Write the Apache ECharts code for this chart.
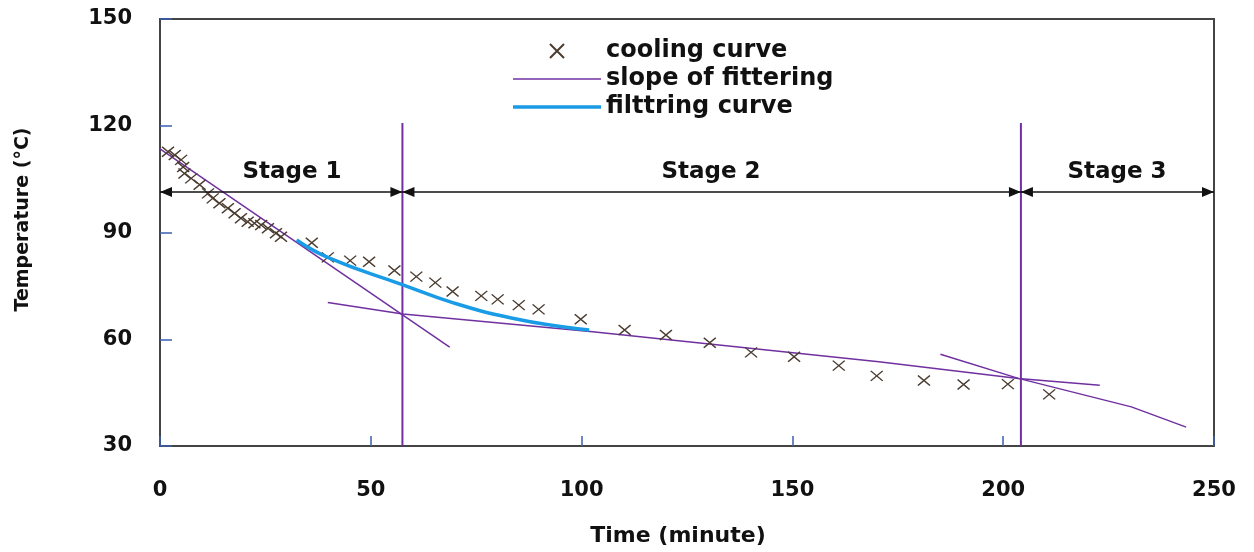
<!DOCTYPE html>
<html>
<head>
<meta charset="utf-8">
<script src="https://cdn.jsdelivr.net/npm/echarts@6/dist/echarts.min.js"></script>
<style>
  html, body { margin: 0; padding: 0; background: #fff; }
  #chart { width: 1254px; height: 552px; }
</style>
</head>
<body>
<div id="chart"></div>
<script>
const coolTime = [1.9, 3.5, 5.0, 5.5, 5.8, 7.4, 9.4, 11.4, 12.5, 14.1, 16.1, 17.7, 19.2, 20.8, 22.4, 24.0, 25.6, 27.5, 28.7,
  36.0, 39.8, 45.1, 49.6, 55.6, 60.8, 65.3, 69.4, 76.2, 80.1, 85.1, 89.8, 99.8,
  110.2, 120.0, 130.4, 140.2, 150.4, 161.0, 170.0, 181.2, 190.6, 201.1, 210.9];
const coolTemp = [112.7, 111.8, 110.4, 108.4, 106.6, 105.2, 103.4, 101.0, 99.6, 98.2, 96.8, 95.4, 94.0, 93.0, 92.6, 92.1, 91.2, 89.8, 88.8,
  87.1, 83.0, 82.1, 81.8, 79.3, 77.6, 75.9, 73.4, 72.2, 71.2, 69.6, 68.4, 65.6,
  62.6, 61.2, 59.0, 56.3, 55.1, 52.6, 49.7, 48.4, 47.3, 47.4, 44.5];

// filtering curve (blue)
const fitTime = [32.4, 40.2, 57.6, 69.4, 83.6, 96.3, 101.8];
const fitTemp = [87.9, 82.8, 75.3, 70.3, 65.9, 63.4, 62.6];

// slope lines (purple)
const slope1Time = [0, 68.7];
const slope1Temp = [113.5, 57.8];
const slope2Time = [39.8, 57.6, 102.6, 170.5, 203.6, 222.9];
const slope2Temp = [70.3, 67.1, 62.1, 53.7, 49.0, 47.1];
const slope3Time = [185.1, 203.6, 230.4, 243.4];
const slope3Temp = [55.8, 49.0, 41.0, 35.3];

// stage boundaries
const stageBounds = [0, 57.5, 204.2, 250];
const boundTop = 120.8;
const arrowTemp = 101.4;
const stageNames = ['Stage 1', 'Stage 2', 'Stage 3'];
const stageLabelTime = [31.3, 130.7, 227];
const stageLabelTemp = [107, 107, 107];

const FONT = 'DejaVu Sans';
const PURPLE = '#7030a0';
const BLUE = '#1a9be6';
const CROSS = 'path://M0,0L10,10M10,0L0,10';
// arrow head with its tip at the symbol centre
const ARROW = 'path://M0,0M24,0M12,12L17,24L7,24Z';

const zip = (a, b) => a.map((v, i) => [v, b[i]]);

const slopeSeries = [zip(slope1Time, slope1Temp), zip(slope2Time, slope2Temp), zip(slope3Time, slope3Temp)]
  .map(d => ({
    name: 'slope of fittering', type: 'line', data: d, symbol: 'none',
    lineStyle: { color: PURPLE, width: 1.5 }, itemStyle: { color: PURPLE }, z: 3
  }));

const boundSeries = [stageBounds[1], stageBounds[2]].map(x => ({
  name: 'slope of fittering', type: 'line', symbol: 'none',
  data: [[x, boundTop], [x, 30]],
  lineStyle: { color: PURPLE, width: 2 }, itemStyle: { color: PURPLE }, z: 3
}));

const arrowData = [];
for (let i = 0; i < 3; i++) {
  arrowData.push({ coords: [[stageBounds[i], arrowTemp], [stageBounds[i + 1], arrowTemp]] });
}

const chart = echarts.init(document.getElementById('chart'), null, { renderer: 'canvas' });
chart.setOption({
  animation: false,
  backgroundColor: '#fff',
  grid: { left: 160, right: 40, top: 19, bottom: 106, show: true, borderColor: '#444', borderWidth: 2 },
  legend: {
    orient: 'vertical', left: 508, top: 34,
    itemWidth: 88, itemHeight: 14, itemGap: 4, symbolKeepAspect: true,
    textStyle: { fontFamily: FONT, fontWeight: 'bold', fontSize: 24, color: '#111' },
    data: [
      { name: 'cooling curve', icon: CROSS },
      { name: 'slope of fittering', icon: 'path://M0,0L100,0L100,1.7L0,1.7Z' },
      { name: 'filttring curve', icon: 'path://M0,0L100,0L100,4L0,4Z' }
    ]
  },
  xAxis: {
    type: 'value', min: 0, max: 250, interval: 50,
    name: 'Time (minute)', nameLocation: 'middle', nameGap: 79,
    nameTextStyle: { fontFamily: FONT, fontWeight: 'bold', fontSize: 22, color: '#111', padding: [0, 18, 0, 0] },
    axisLine: { lineStyle: { color: '#444', width: 2 } },
    axisTick: { inside: true, length: 10, lineStyle: { color: '#3a5fb0', width: 1.5 } },
    axisLabel: { margin: 34, fontFamily: FONT, fontWeight: 'bold', fontSize: 21, color: '#111' },
    splitLine: { show: false }
  },
  yAxis: {
    type: 'value', min: 30, max: 150, interval: 30,
    name: 'Temperature (°C)', nameLocation: 'middle', nameGap: 127,
    nameTextStyle: { fontFamily: FONT, fontWeight: 'bold', fontSize: 19, color: '#111', padding: [0, 0, 0, 26] },
    axisLine: { lineStyle: { color: '#444', width: 2 } },
    axisTick: { inside: true, length: 12, lineStyle: { color: '#3a5fb0', width: 1.5 } },
    axisLabel: { margin: 28, fontFamily: FONT, fontWeight: 'bold', fontSize: 21, color: '#111' },
    splitLine: { show: false }
  },
  series: [
    {
      name: 'cooling curve', type: 'scatter', data: zip(coolTime, coolTemp),
      symbol: CROSS, symbolSize: [12, 10],
      itemStyle: { color: 'none', borderColor: '#4a3c30', borderWidth: 1.4, opacity: 1 }, z: 4
    },
    ...slopeSeries,
    ...boundSeries,
    {
      name: 'filttring curve', type: 'line', data: zip(fitTime, fitTemp), smooth: true, symbol: 'none',
      lineStyle: { color: BLUE, width: 3.5 }, itemStyle: { color: BLUE }, z: 5
    },
    {
      name: 'arrows', type: 'lines', coordinateSystem: 'cartesian2d',
      data: arrowData, symbol: [ARROW, ARROW], symbolSize: 24,
      lineStyle: { color: '#111', width: 1.5, opacity: 1 }, z: 6
    },
    {
      name: 'stages', type: 'scatter', symbolSize: 0,
      itemStyle: { opacity: 1 },
      data: stageNames.map((n, i) => ({ name: n, value: [stageLabelTime[i], stageLabelTemp[i]] })),
      label: {
        show: true, position: 'inside', formatter: '{b}',
        fontFamily: FONT, fontWeight: 'bold', fontSize: 23, color: '#111'
      }, z: 6
    }
  ]
});
</script>
</body>
</html>
